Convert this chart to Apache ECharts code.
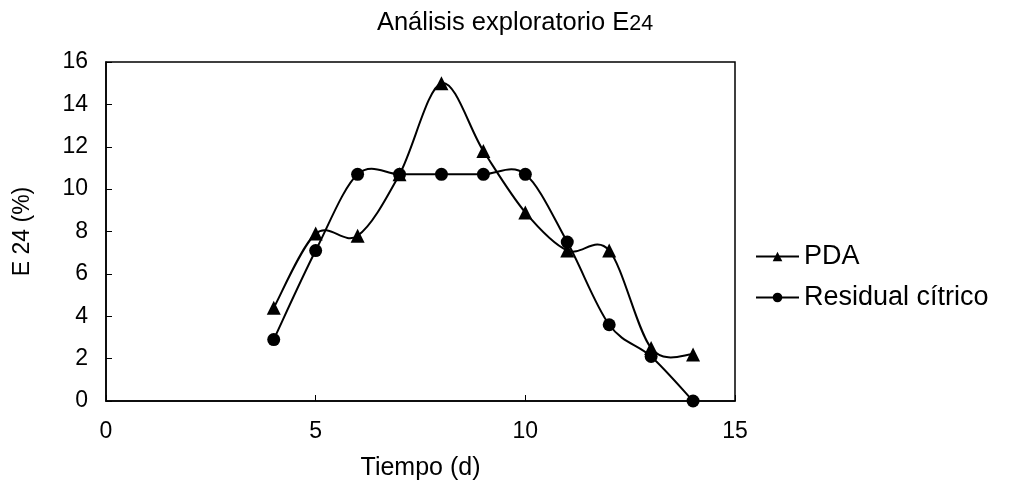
<!DOCTYPE html>
<html>
<head>
<meta charset="utf-8">
<script src="https://cdn.jsdelivr.net/npm/echarts@6/dist/echarts.min.js"></script>
<style>
  html, body { margin: 0; padding: 0; background: #fff; }
  #chart { width: 1011px; height: 486px; }
</style>
</head>
<body>
<div id="chart"></div>
<script>
// Días de muestreo y valores de E24 (%) por medio de cultivo
const dias = [4, 5, 6, 7, 8, 9, 10, 11, 12, 13, 14];
const pda = [4.4, 7.9, 7.8, 10.7, 15.0, 11.8, 8.9, 7.1, 7.1, 2.5, 2.2];
const residualCitrico = [2.9, 7.1, 10.7, 10.7, 10.7, 10.7, 10.7, 7.5, 3.6, 2.1, 0];

const FONT = '"Liberation Sans", Arial, sans-serif';
const chart = echarts.init(document.getElementById('chart'));

const pairs = (xs, ys) => xs.map((x, i) => [x, ys[i]]);

// Curva suavizada tipo Catmull-Rom: cada elemento dibuja el tramo i -> i+1
// con puntos de control calculados en píxeles a partir de los vecinos.
function tramoSuave(xs, ys) {
  const n = xs.length;
  return function (params, api) {
    const i = params.dataIndex;
    if (i >= n - 1) return null;
    const pt = k => {
      const j = Math.max(0, Math.min(n - 1, k));
      return api.coord([xs[j], ys[j]]);
    };
    const p0 = pt(i - 1), p1 = pt(i), p2 = pt(i + 1), p3 = pt(i + 2);
    const t = 1 / 6;
    return {
      type: 'bezierCurve',
      silent: true,
      shape: {
        x1: p1[0], y1: p1[1],
        x2: p2[0], y2: p2[1],
        cpx1: p1[0] + (p2[0] - p0[0]) * t,
        cpy1: p1[1] + (p2[1] - p0[1]) * t,
        cpx2: p2[0] - (p3[0] - p1[0]) * t,
        cpy2: p2[1] - (p3[1] - p1[1]) * t
      },
      style: { stroke: '#000', lineWidth: 2, fill: null }
    };
  };
}

const lineaLeyenda = { color: '#000', width: 2, opacity: 1 };

chart.setOption({
  animation: false,
  backgroundColor: '#fff',
  title: {
    text: 'Análisis exploratorio E{s|24}',
    left: 510,
    top: 5,
    textAlign: 'center',
    textStyle: {
      fontFamily: FONT, fontSize: 25.5, fontWeight: 'normal', color: '#000',
      rich: { s: { fontFamily: FONT, fontSize: 21.5, color: '#000', padding: [3, 0, 0, 0] } }
    }
  },
  grid: { left: 106, right: 276, top: 62, bottom: 83, show: true, borderColor: '#000', borderWidth: 1.5 },
  legend: {
    orient: 'vertical',
    left: 755,
    top: 243,
    padding: 0,
    itemGap: 14,
    itemWidth: 43,
    itemHeight: 12,
    textStyle: { fontFamily: FONT, fontSize: 27, color: '#000' },
    data: [
      { name: 'PDA', lineStyle: lineaLeyenda },
      { name: 'Residual cítrico', lineStyle: lineaLeyenda }
    ]
  },
  xAxis: {
    type: 'value',
    min: 0, max: 15, interval: 5,
    name: 'Tiempo (d)',
    nameLocation: 'middle',
    nameGap: 55,
    nameTextStyle: { fontFamily: FONT, fontSize: 25, color: '#000' },
    axisLine: { show: true, lineStyle: { color: '#000', width: 1.5 } },
    axisTick: { show: true, inside: true, length: 6, lineStyle: { color: '#000' } },
    axisLabel: { fontFamily: FONT, fontSize: 23, color: '#000', margin: 19 },
    splitLine: { show: false }
  },
  yAxis: {
    type: 'value',
    min: 0, max: 16, interval: 2,
    name: 'E 24 (%)',
    nameLocation: 'middle',
    nameGap: 72,
    nameTextStyle: { fontFamily: FONT, fontSize: 23, color: '#000' },
    axisLine: { show: true, lineStyle: { color: '#000', width: 1.5 } },
    axisTick: { show: true, inside: true, length: 6, lineStyle: { color: '#000' } },
    axisLabel: { fontFamily: FONT, fontSize: 23, color: '#000', margin: 18 },
    splitLine: { show: false }
  },
  series: [
    {
      name: 'curva PDA',
      type: 'custom',
      data: pairs(dias, pda),
      encode: { x: 0, y: 1 },
      renderItem: tramoSuave(dias, pda),
      z: 2
    },
    {
      name: 'curva residual',
      type: 'custom',
      data: pairs(dias, residualCitrico),
      encode: { x: 0, y: 1 },
      renderItem: tramoSuave(dias, residualCitrico),
      z: 2
    },
    {
      name: 'PDA',
      type: 'line',
      data: pairs(dias, pda),
      symbol: 'triangle',
      symbolSize: 14,
      itemStyle: { color: '#000' },
      lineStyle: { color: '#000', width: 2, opacity: 0 },
      z: 3
    },
    {
      name: 'Residual cítrico',
      type: 'line',
      data: pairs(dias, residualCitrico),
      symbol: 'circle',
      symbolSize: 13,
      itemStyle: { color: '#000' },
      lineStyle: { color: '#000', width: 2, opacity: 0 },
      z: 3
    }
  ]
});
</script>
</body>
</html>
